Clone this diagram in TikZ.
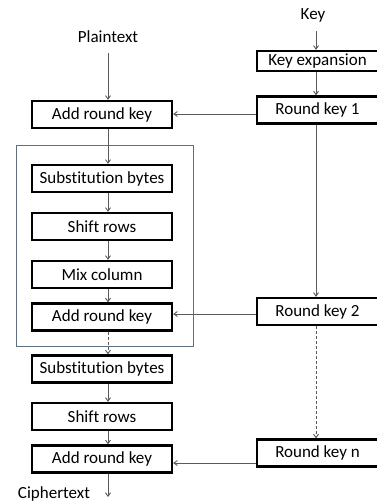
\documentclass[tikz,border=0pt]{standalone}
\usepackage{fontspec}
\setmainfont{Carlito}[Ligatures={NoCommon}]
\usetikzlibrary{arrows.meta}
\definecolor{framecol}{HTML}{5E6E7E}
\begin{document}
\begin{tikzpicture}[x=1pt,y=-1pt,
  txt/.style={font=\fontsize{17}{19}\selectfont},
  box/.style={txt,draw=black,line width=2.3pt,minimum height=27pt,inner sep=0pt},
  lbox/.style={box,minimum width=140pt},
  rbox/.style={box,minimum width=121pt},
  lbl/.style={txt,inner sep=0pt},
  arr/.style={draw=black!65,line width=0.9pt,-{Straight Barb[length=3.5pt,width=5pt]}},
  darr/.style={arr,dashed,dash pattern=on 3pt off 2pt},
  frame/.style={draw=framecol,line width=0.9pt}]
\useasboundingbox (0,0) rectangle (377,503);
\fill[white] (0,0) rectangle (377,503);
% columns
\coordinate (cl) at (108,0);
\coordinate (cr) at (316,0);
% frame
\draw[frame] (16,145) rectangle (193,346);
% labels
\node[lbl] (key) at (313,15) {Key};
\node[lbl] (pt) at (108,37) {Plaintext};
\node[lbl] (ct) at (54,494) {Ciphertext};
% left column
\node[lbox] (ark1) at (102,114.5) {Add round key};
\node[lbox] (sb1) at (102,178.5) {Substitution bytes};
\node[lbox] (sr1) at (102,226.5) {Shift rows};
\node[lbox] (mc) at (102,274.5) {Mix column};
\node[lbox] (ark2) at (102,317) {Add round key};
\node[lbox] (sb2) at (102,369) {Substitution bytes};
\node[lbox] (sr2) at (102,416.5) {Shift rows};
\node[lbox] (ark3) at (102,459) {Add round key};
% right column
\node[rbox,minimum height=20pt] (kexp) at (317.5,61) {Key expansion};
\node[rbox] (rk1) at (317.5,110) {Round key 1};
\node[rbox] (rk2) at (317.5,311.5) {Round key 2};
\node[rbox] (rkn) at (317.5,453) {Round key n};
% key path
\coordinate (ctend) at (108,497);
\draw[arr] ([yshift=-9pt]key.south -| cr) -- (kexp.north -| cr);
\draw[arr] (kexp.south -| cr) -- (rk1.north -| cr);
\draw[arr] (rk1.south -| cr) -- (rk2.north -| cr);
\draw[darr] (rk2.south -| cr) -- (rkn.north -| cr);
% round keys to add round key
\draw[arr] ([yshift=-4pt]rk1.west) -- ([yshift=-4pt]rk1.west -| ark1.east);
\draw[arr] ([yshift=-2.5pt]rk2.west) -- ([yshift=-2.5pt]rk2.west -| ark2.east);
\draw[arr] ([yshift=-10pt]rkn.west) -- ([yshift=-10pt]rkn.west -| ark3.east);
% data path
\draw[arr] ([yshift=-10pt]pt.south -| cl) -- (ark1.north -| cl);
\draw[arr] (ark1.south -| cl) -- (sb1.north -| cl);
\draw[arr] (sb1.south -| cl) -- (sr1.north -| cl);
\draw[arr] (sr1.south -| cl) -- (mc.north -| cl);
\draw[arr] (mc.south -| cl) -- (ark2.north -| cl);
\draw[darr] (ark2.south -| cl) -- (sb2.north -| cl);
\draw[arr] (sb2.south -| cl) -- (sr2.north -| cl);
\draw[arr] (sr2.south -| cl) -- (ark3.north -| cl);
\draw[arr] (ark3.south -| cl) -- (ctend);
\end{tikzpicture}
\end{document}
